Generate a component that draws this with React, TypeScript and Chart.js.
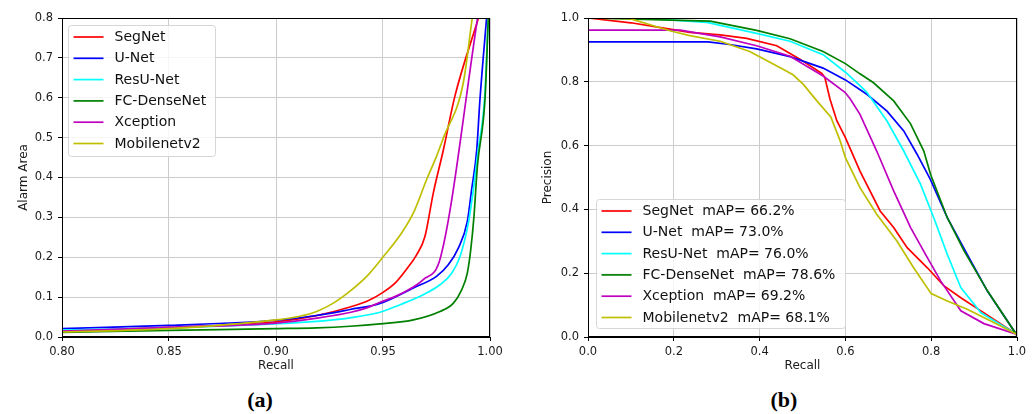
import React, { useEffect, useRef } from "react";
import { Chart, registerables } from "chart.js";

Chart.register(...registerables);

const FONT = '"DejaVu Sans", sans-serif';

// ---- shared series info ----
const modelNames = ["SegNet", "U-Net", "ResU-Net", "FC-DenseNet", "Xception", "Mobilenetv2"];
const modelColors = ["#ff0000", "#0000ff", "#00ffff", "#008000", "#bf00bf", "#bfbf00"];
const mapValues = [66.2, 73.0, 76.0, 78.6, 69.2, 68.1];

// ---- (a) Recall vs Alarm Area ----
const segnetAlarmRecall = [0.80, 0.85, 0.90, 0.92, 0.935, 0.943, 0.950, 0.956, 0.961, 0.9657, 0.9696, 0.9735, 0.9782, 0.9836, 0.9946];
const segnetAlarmArea = [0.014, 0.024, 0.038, 0.055, 0.076, 0.091, 0.112, 0.137, 0.170, 0.206, 0.252, 0.361, 0.469, 0.604, 0.800];

const unetAlarmRecall = [0.80, 0.85, 0.90, 0.919, 0.9346, 0.9486, 0.9642, 0.975, 0.9805, 0.9852, 0.9894, 0.9914, 0.9938, 0.9953, 0.9984];
const unetAlarmArea = [0.021, 0.029, 0.042, 0.054, 0.069, 0.084, 0.123, 0.152, 0.181, 0.223, 0.290, 0.369, 0.469, 0.595, 0.800];

const resunetAlarmRecall = [0.80, 0.85, 0.90, 0.919, 0.9346, 0.9486, 0.958, 0.9688, 0.9766, 0.9821, 0.986, 0.9899, 0.9922, 0.9945, 0.9975, 0.9992];
const resunetAlarmArea = [0.0175, 0.023, 0.033, 0.039, 0.048, 0.062, 0.081, 0.106, 0.131, 0.160, 0.202, 0.286, 0.369, 0.469, 0.600, 0.800];

const densenetAlarmRecall = [0.80, 0.85, 0.90, 0.919, 0.9346, 0.9486, 0.9642, 0.9766, 0.9829, 0.9868, 0.9894, 0.991, 0.9925, 0.9941, 0.9977, 0.9992];
const densenetAlarmArea = [0.0115, 0.0165, 0.021, 0.023, 0.027, 0.033, 0.043, 0.064, 0.085, 0.119, 0.160, 0.219, 0.302, 0.428, 0.600, 0.800];

const xceptionAlarmRecall = [0.80, 0.85, 0.90, 0.92, 0.935, 0.9424, 0.9486, 0.955, 0.9611, 0.9688, 0.977, 0.9942];
const xceptionAlarmArea = [0.015, 0.024, 0.035, 0.048, 0.062, 0.073, 0.087, 0.100, 0.116, 0.144, 0.202, 0.800];

const mobilenetAlarmRecall = [0.80, 0.85, 0.90, 0.9112, 0.919, 0.9268, 0.9346, 0.9424, 0.9502, 0.9587, 0.9642, 0.9704, 0.975, 0.9782, 0.9875, 0.9917];
const mobilenetAlarmArea = [0.0125, 0.021, 0.043, 0.052, 0.064, 0.085, 0.115, 0.152, 0.202, 0.261, 0.311, 0.395, 0.453, 0.499, 0.637, 0.800];

const alarmXTicks = [0.8, 0.85, 0.9, 0.95, 1.0];
const alarmYTicks = [0.0, 0.1, 0.2, 0.3, 0.4, 0.5, 0.6, 0.7, 0.8];

// ---- (b) Precision vs Recall ----
const segnetPrRecall = [0, 0.1, 0.191, 0.237, 0.308, 0.37, 0.44, 0.494, 0.545, 0.552, 0.564, 0.58, 0.6, 0.634, 0.681, 0.7125, 0.744, 0.791, 0.83, 0.869, 0.916, 1.0];
const segnetPrPrecision = [1.0, 0.985, 0.965, 0.955, 0.947, 0.936, 0.913, 0.871, 0.826, 0.814, 0.746, 0.678, 0.625, 0.520, 0.395, 0.343, 0.280, 0.217, 0.160, 0.123, 0.082, 0.008];

const unetPrRecall = [0, 0.28, 0.33, 0.393, 0.471, 0.548, 0.6, 0.65, 0.697, 0.736, 0.767, 0.798, 0.8375, 0.884, 0.931, 1.0];
const unetPrPrecision = [0.925, 0.925, 0.917, 0.903, 0.879, 0.843, 0.806, 0.761, 0.708, 0.646, 0.573, 0.494, 0.374, 0.259, 0.144, 0.005];

const resunetPrRecall = [0, 0.153, 0.277, 0.393, 0.471, 0.548, 0.6, 0.634, 0.65, 0.697, 0.736, 0.775, 0.806, 0.8375, 0.869, 0.916, 1.0];
const resunetPrPrecision = [1.0, 0.997, 0.986, 0.952, 0.927, 0.885, 0.83, 0.788, 0.767, 0.677, 0.583, 0.479, 0.374, 0.259, 0.155, 0.076, 0.008];

const densenetPrRecall = [0, 0.285, 0.393, 0.471, 0.548, 0.6, 0.634, 0.6656, 0.7125, 0.7516, 0.7828, 0.7984, 0.8375, 0.8766, 0.9313, 1.0];
const densenetPrPrecision = [1.0, 0.99, 0.961, 0.935, 0.895, 0.857, 0.825, 0.797, 0.740, 0.669, 0.583, 0.510, 0.374, 0.270, 0.144, 0.005];

const xceptionPrRecall = [0, 0.215, 0.308, 0.393, 0.471, 0.548, 0.599, 0.611, 0.634, 0.673, 0.7125, 0.752, 0.791, 0.822, 0.869, 0.923, 1.0];
const xceptionPrPrecision = [0.962, 0.962, 0.941, 0.913, 0.880, 0.818, 0.767, 0.747, 0.698, 0.583, 0.458, 0.343, 0.249, 0.176, 0.082, 0.042, 0.008];

const mobilenetPrRecall = [0, 0.098, 0.191, 0.237, 0.308, 0.377, 0.447, 0.478, 0.502, 0.533, 0.566, 0.588, 0.6, 0.634, 0.673, 0.72, 0.759, 0.8, 0.8375, 0.884, 0.947, 1.0];
const mobilenetPrPrecision = [1.0, 0.998, 0.96, 0.945, 0.927, 0.895, 0.845, 0.822, 0.792, 0.741, 0.690, 0.614, 0.562, 0.468, 0.385, 0.301, 0.217, 0.136, 0.113, 0.087, 0.045, 0.008];

const prTicks = [0.0, 0.2, 0.4, 0.6, 0.8, 1.0];

const alarmRecalls = [segnetAlarmRecall, unetAlarmRecall, resunetAlarmRecall, densenetAlarmRecall, xceptionAlarmRecall, mobilenetAlarmRecall];
const alarmAreas = [segnetAlarmArea, unetAlarmArea, resunetAlarmArea, densenetAlarmArea, xceptionAlarmArea, mobilenetAlarmArea];
const prRecalls = [segnetPrRecall, unetPrRecall, resunetPrRecall, densenetPrRecall, xceptionPrRecall, mobilenetPrRecall];
const prPrecisions = [segnetPrPrecision, unetPrPrecision, resunetPrPrecision, densenetPrPrecision, xceptionPrPrecision, mobilenetPrPrecision];

function makeDatasets(xs: number[][], ys: number[][], labels: string[], smooth: boolean) {
  return labels.map((label, i) => ({
    label,
    data: xs[i].map((x, j) => ({ x, y: ys[i][j] })),
    borderColor: modelColors[i],
    backgroundColor: modelColors[i],
    borderWidth: 1.7,
    pointRadius: 0,
    pointHoverRadius: 0,
    fill: false,
    tension: 0,
    cubicInterpolationMode: smooth ? "monotone" : "default",
    order: labels.length - i,
  }));
}

const framePlugin = {
  id: "frame",
  afterDatasetsDraw(chart: any) {
    const { ctx, chartArea: a } = chart;
    ctx.save();
    ctx.strokeStyle = "#000";
    ctx.lineWidth = 1;
    ctx.strokeRect(Math.round(a.left) + 0.5, Math.round(a.top) + 0.5, Math.round(a.right - a.left) - 1, Math.round(a.bottom - a.top) - 1);
    ctx.restore();
  },
};

function boxLegend(cfg: { dx: number; top?: number; bottomGap?: number; width: number; height: number }) {
  return {
    id: "boxLegend",
    afterDraw(chart: any) {
      const { ctx, chartArea: a } = chart;
      const ds = chart.data.datasets;
      const x0 = Math.round(a.left + cfg.dx) + 0.5;
      const y0 = Math.round(cfg.top != null ? a.top + cfg.top : a.bottom - (cfg.bottomGap || 0) - cfg.height) + 0.5;
      const w = cfg.width, h = cfg.height, r = 3;
      ctx.save();
      ctx.beginPath();
      ctx.moveTo(x0 + r, y0);
      ctx.lineTo(x0 + w - r, y0);
      ctx.quadraticCurveTo(x0 + w, y0, x0 + w, y0 + r);
      ctx.lineTo(x0 + w, y0 + h - r);
      ctx.quadraticCurveTo(x0 + w, y0 + h, x0 + w - r, y0 + h);
      ctx.lineTo(x0 + r, y0 + h);
      ctx.quadraticCurveTo(x0, y0 + h, x0, y0 + h - r);
      ctx.lineTo(x0, y0 + r);
      ctx.quadraticCurveTo(x0, y0, x0 + r, y0);
      ctx.closePath();
      ctx.fillStyle = "rgba(255,255,255,0.8)";
      ctx.fill();
      ctx.strokeStyle = "#d6d6d6";
      ctx.lineWidth = 1;
      ctx.stroke();
      ctx.font = `14px ${FONT}`;
      ctx.textBaseline = "middle";
      ctx.textAlign = "left";
      ds.forEach((d: any, i: number) => {
        const cy = y0 + 11.5 + i * 21.3;
        ctx.strokeStyle = d.borderColor;
        ctx.lineWidth = 1.7;
        ctx.beginPath();
        ctx.moveTo(x0 + 5, cy);
        ctx.lineTo(x0 + 35, cy);
        ctx.stroke();
        ctx.fillStyle = "#111";
        ctx.fillText(d.label, x0 + 46, cy + 0.5);
      });
      ctx.restore();
    },
  };
}

function axisOptions(p: {
  min: number; max: number; ticks: number[]; decimals: number; horizontal: boolean;
  size: number; title: string; titlePad: number; tickPad: number;
}) {
  return {
    type: "linear",
    min: p.min,
    max: p.max,
    afterBuildTicks: (s: any) => {
      s.ticks = p.ticks.map((v) => ({ value: v }));
    },
    afterFit: (s: any) => {
      if (p.horizontal) s.height = p.size;
      else s.width = p.size;
    },
    ticks: {
      callback: (v: any) => Number(v).toFixed(p.decimals),
      font: { size: 11.5, family: FONT },
      color: "#1a1a1a",
      padding: p.tickPad,
      maxRotation: 0,
      minRotation: 0,
      autoSkip: false,
    },
    grid: { color: "#cccccc", lineWidth: 1, tickColor: "#000", tickLength: 4, drawTicks: true },
    border: { display: true, color: "#000", width: 1 },
    title: {
      display: true,
      text: p.title,
      font: { size: 12, family: FONT },
      color: "#1a1a1a",
      padding: p.horizontal ? { top: 0, bottom: p.titlePad } : { top: p.titlePad, bottom: 0 },
    },
  };
}

function useChart(ref: React.RefObject<HTMLCanvasElement>, build: () => any) {
  useEffect(() => {
    if (!ref.current) return;
    const chart = new Chart(ref.current, build());
    return () => chart.destroy();
  }, []);
}

const W = 518;
const H = 380;

export default function App() {
  const leftRef = useRef<HTMLCanvasElement>(null);
  const rightRef = useRef<HTMLCanvasElement>(null);

  useChart(leftRef, () => ({
    type: "line",
    data: { datasets: makeDatasets(alarmRecalls, alarmAreas, modelNames, true) },
    options: {
      responsive: false,
      animation: false,
      events: [],
      layout: { padding: { left: 0, top: 18, right: 28, bottom: 0 } },
      plugins: { legend: { display: false }, tooltip: { enabled: false } },
      scales: {
        x: axisOptions({ min: 0.8, max: 1.0, ticks: alarmXTicks, decimals: 2, horizontal: true, size: 43, title: "Recall", titlePad: 6.5, tickPad: 4 }),
        y: axisOptions({ min: 0, max: 0.8, ticks: alarmYTicks, decimals: 1, horizontal: false, size: 62, title: "Alarm Area", titlePad: 17, tickPad: 5 }),
      },
    },
    plugins: [framePlugin, boxLegend({ dx: 6, top: 7, width: 147, height: 131 })],
  }));

  useChart(rightRef, () => ({
    type: "line",
    data: {
      datasets: makeDatasets(
        prRecalls,
        prPrecisions,
        modelNames.map((n, i) => `${n}  mAP= ${mapValues[i].toFixed(1)}%`),
        false
      ),
    },
    options: {
      responsive: false,
      animation: false,
      events: [],
      layout: { padding: { left: 0, top: 18, right: 19, bottom: 0 } },
      plugins: { legend: { display: false }, tooltip: { enabled: false } },
      scales: {
        x: axisOptions({ min: 0, max: 1, ticks: prTicks, decimals: 1, horizontal: true, size: 43, title: "Recall", titlePad: 6.5, tickPad: 4 }),
        y: axisOptions({ min: 0, max: 1, ticks: prTicks, decimals: 1, horizontal: false, size: 70, title: "Precision", titlePad: 22.8, tickPad: 5 }),
      },
    },
    plugins: [framePlugin, boxLegend({ dx: 8, bottomGap: 9, width: 249, height: 129 })],
  }));

  const captionStyle: React.CSSProperties = {
    position: "absolute",
    top: 388,
    width: 100,
    textAlign: "center",
    fontFamily: '"Liberation Serif", serif',
    fontWeight: "bold",
    fontSize: 22,
    lineHeight: "24px",
    color: "#000",
  };

  return (
    <div style={{ position: "absolute", left: 0, top: 0, width: 1036, height: 414, background: "#fff", overflow: "hidden" }}>
      <canvas ref={leftRef} width={W} height={H} style={{ position: "absolute", left: 0, top: 0, width: W, height: H }} />
      <canvas ref={rightRef} width={W} height={H} style={{ position: "absolute", left: W, top: 0, width: W, height: H }} />
      <div style={{ ...captionStyle, left: 260 - 50 }}>(a)</div>
      <div style={{ ...captionStyle, left: 784 - 50 }}>(b)</div>
    </div>
  );
}
